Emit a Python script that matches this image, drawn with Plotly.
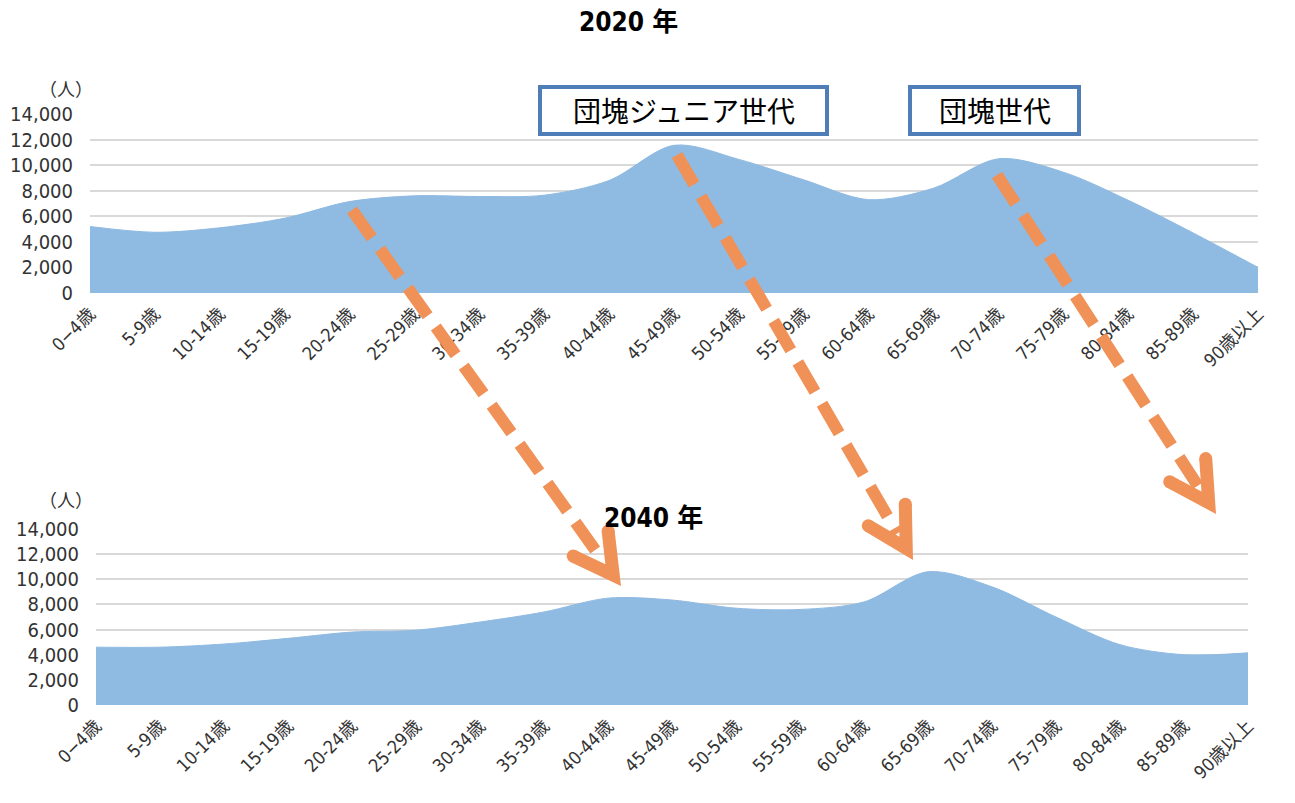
import math
import plotly.graph_objects as go

W, H = 1295, 803

age_groups = ["0−4歳", "5-9歳", "10-14歳", "15-19歳", "20-24歳", "25-29歳", "30-34歳",
              "35-39歳", "40-44歳", "45-49歳", "50-54歳", "55-59歳", "60-64歳", "65-69歳",
              "70-74歳", "75-79歳", "80-84歳", "85-89歳", "90歳以上"]
pop_2020 = [5200, 4750, 5100, 5850, 7150, 7600, 7550, 7650, 8800, 11550,
            10450, 8850, 7300, 8200, 10500, 9450, 7250, 4700, 2000]
pop_2040 = [4600, 4600, 4850, 5300, 5800, 5950, 6600, 7400, 8500, 8350,
            7700, 7600, 8200, 10600, 9400, 7000, 4800, 4000, 4150]
y_ticks = [0, 2000, 4000, 6000, 8000, 10000, 12000, 14000]
y_ticktext = ["0", "2,000", "4,000", "6,000", "8,000", "10,000", "12,000", "14,000"]

FILL = "#8FBAE1"
ORANGE = "#F09158"
BOX = "#4E7DB7"
NARROW = "DejaVu Sans Condensed, Noto Sans CJK JP, sans-serif"
CJK = "Noto Sans CJK JP, sans-serif"


def px(x):
    return x / W


def py(y):
    return 1 - y / H


fig = go.Figure()
idx = list(range(len(age_groups)))
fig.add_trace(go.Scatter(x=idx, y=pop_2020, mode="lines", fill="tozeroy",
                         fillcolor=FILL, line=dict(color=FILL, width=1, shape="spline", smoothing=0.9),
                         xaxis="x", yaxis="y", hoverinfo="skip"))
fig.add_trace(go.Scatter(x=idx, y=pop_2040, mode="lines", fill="tozeroy",
                         fillcolor=FILL, line=dict(color=FILL, width=1, shape="spline", smoothing=0.9),
                         xaxis="x2", yaxis="y2", hoverinfo="skip"))

xcommon = dict(range=[0, len(age_groups) - 1], tickmode="array", tickvals=idx, ticktext=age_groups,
               tickangle=-45, showgrid=False, zeroline=False, showline=False, ticks="",
               tickfont=dict(family=NARROW, size=18, color="#333333"), automargin=False,
               ticklabelstandoff=6, fixedrange=True)
ycommon = dict(range=[0, 14000], tickmode="array", tickvals=y_ticks, ticktext=y_ticktext,
               showgrid=True, gridcolor="#D9D9D9", gridwidth=1.5, zeroline=False, showline=False,
               ticks="", tickfont=dict(family=NARROW, size=20, color="#333333"), automargin=False,
               ticklabelstandoff=16, fixedrange=True)

fig.update_layout(
    width=W, height=H, margin=dict(l=0, r=0, t=0, b=0),
    paper_bgcolor="white", plot_bgcolor="white", showlegend=False,
    xaxis=dict(domain=[px(90), px(1258)], anchor="y", **xcommon),
    yaxis=dict(domain=[py(293), py(114)], anchor="x", **ycommon),
    xaxis2=dict(domain=[px(96), px(1248)], anchor="y2", **xcommon),
    yaxis2=dict(domain=[py(705), py(529)], anchor="x2", **ycommon),
)


def note(x, y, text, font):
    return dict(x=px(x), y=py(y), text=text, showarrow=False, xref="paper", yref="paper",
                xanchor="center", yanchor="middle", font=font)


annotations = []
# panel titles
annotations.append(note(628, 22, "2020 年", dict(family=NARROW, size=26, color="black", weight=700)))
annotations.append(note(653, 518, "2040 年", dict(family=NARROW, size=26, color="black", weight=700)))
# unit labels
for yy in (88, 499):
    annotations.append(note(66, yy, "（人）", dict(family=CJK, size=18, color="#333333")))

shapes = []
# generation labels in boxes
for label, x0, x1 in (("団塊ジュニア世代", 540, 827), ("団塊世代", 910, 1079)):
    shapes.append(dict(type="rect", xref="paper", yref="paper", x0=px(x0), x1=px(x1),
                       y0=py(134), y1=py(87), line=dict(color=BOX, width=4), fillcolor="white"))
    annotations.append(note((x0 + x1) / 2, 110, label, dict(family=CJK, size=28, color="black")))

# dashed shift arrows: (start, tip) in page pixels
arrows = [((352, 210), (621, 586)), ((677, 155), (913, 560)), ((997, 175), (1216, 514))]
ARM_LEN, ARM_W, HALF = 56, 13, math.radians(29)


def to_paper_path(points):
    return "M " + " L ".join(f"{px(x):.5f},{py(y):.5f}" for x, y in points) + " Z"


def rot(v, a):
    return (v[0] * math.cos(a) - v[1] * math.sin(a), v[0] * math.sin(a) + v[1] * math.cos(a))


def intersect(p, d, q, e):
    den = d[0] * e[1] - d[1] * e[0]
    t = ((q[0] - p[0]) * e[1] - (q[1] - p[1]) * e[0]) / den
    return (p[0] + t * d[0], p[1] + t * d[1])


for (sx, sy), (tx, ty) in arrows:
    L = math.hypot(tx - sx, ty - sy)
    u = ((tx - sx) / L, (ty - sy) / L)
    back = (-u[0], -u[1])
    d1 = rot(back, HALF)
    d2 = rot(back, -HALF)
    o1 = (tx + d1[0] * ARM_LEN, ty + d1[1] * ARM_LEN)
    o2 = (tx + d2[0] * ARM_LEN, ty + d2[1] * ARM_LEN)
    # inward normals (towards the arrow axis)
    n1 = rot(d1, -math.pi / 2)
    if n1[0] * d2[0] + n1[1] * d2[1] < 0:
        n1 = (-n1[0], -n1[1])
    n2 = rot(d2, math.pi / 2)
    if n2[0] * d1[0] + n2[1] * d1[1] < 0:
        n2 = (-n2[0], -n2[1])
    i1 = (o1[0] + n1[0] * ARM_W, o1[1] + n1[1] * ARM_W)
    i2 = (o2[0] + n2[0] * ARM_W, o2[1] + n2[1] * ARM_W)
    v = intersect(i1, d1, i2, d2)
    # dashed shaft
    ex, ey = v[0] - u[0] * 4, v[1] - u[1] * 4
    shapes.append(dict(type="line", xref="paper", yref="paper", x0=px(sx), y0=py(sy), x1=px(ex), y1=py(ey),
                       line=dict(color=ORANGE, width=12, dash="34px,14px")))
    # chevron head
    shapes.append(dict(type="path", xref="paper", yref="paper", path=to_paper_path([(tx, ty), o1, i1, v, i2, o2]),
                       fillcolor=ORANGE, line=dict(width=0)))
    for a, b in ((o1, i1), (o2, i2)):
        cx, cy = (a[0] + b[0]) / 2, (a[1] + b[1]) / 2
        r = ARM_W / 2
        shapes.append(dict(type="circle", xref="paper", yref="paper", x0=px(cx - r), x1=px(cx + r),
                           y0=py(cy + r), y1=py(cy - r), fillcolor=ORANGE, line=dict(width=0)))

fig.update_layout(shapes=shapes, annotations=annotations)
fig.write_html("out.html")
